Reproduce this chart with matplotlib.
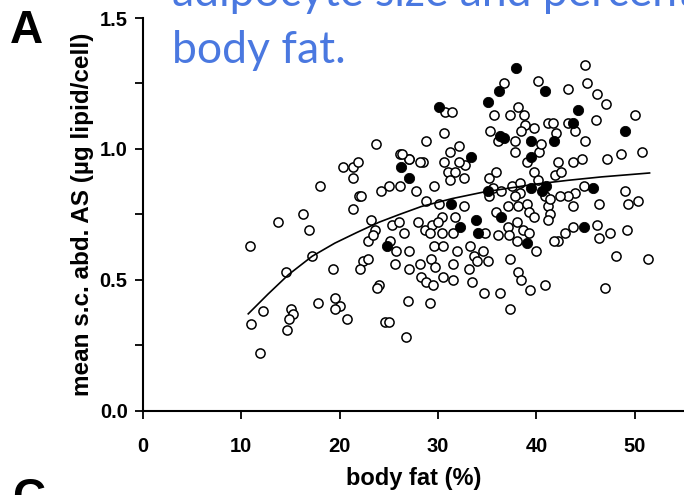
import matplotlib
matplotlib.use("Agg")
import matplotlib.pyplot as plt
from matplotlib.ticker import MultipleLocator

# ---- data ----
open_bf = [10.9, 11.9, 11.0, 12.2, 14.5, 13.7, 16.3, 16.9, 17.2, 18.0, 17.8, 15.0, 15.2, 14.8, 14.6,
           19.3, 19.5, 20.0, 19.5, 20.7, 21.3, 22.0, 22.2, 20.3, 21.4, 21.9, 21.3, 23.7, 24.2, 25.0,
           26.1, 26.1, 27.0, 27.8, 23.2, 23.6, 22.9, 23.4, 22.4, 22.9, 22.1, 24.0, 23.8, 25.3, 26.0,
           26.5, 25.1, 25.7, 27.0, 25.6, 27.0, 26.9, 24.6, 25.0, 26.7, 29.2, 28.0, 28.7, 29.4, 28.8,
           28.8, 30.6, 28.5, 29.6, 30.1, 30.4, 30.0, 29.2, 30.4, 29.6, 30.5, 28.2, 29.3, 29.7, 28.3,
           28.8, 29.5, 30.5, 30.7, 31.4, 27.0, 28.2, 26.3,
           32.1, 31.2, 30.6, 31.0, 31.7, 32.7, 32.1, 32.6, 31.2, 32.6, 31.7, 31.5, 31.9, 31.5, 31.5,
           33.2, 33.1, 33.4, 33.7, 34.6, 34.0, 35.1, 34.7, 36.3, 34.8, 35.2, 35.9, 35.6, 35.2, 35.7,
           37.3, 38.1, 38.7, 35.3, 36.1, 36.7, 38.8, 38.4, 37.8, 39.8, 37.8, 39.0, 40.3, 40.5, 41.2,
           41.7, 42.0, 40.2, 43.2, 39.7, 40.2, 35.9, 37.1, 38.1, 39.0, 39.2, 36.4, 37.5, 38.3, 38.3,
           37.8, 37.1, 38.0, 38.6, 39.2, 36.1, 37.2, 38.0, 39.7, 40.0, 37.3, 38.1, 38.4, 39.3, 37.3,
           40.9, 41.2, 41.4, 41.2, 40.9, 41.4, 41.9, 42.5, 42.2,
           44.9, 45.1, 46.2, 47.1, 43.2, 43.9, 44.9, 46.1, 50.0, 50.7, 48.6, 47.2, 43.7, 44.6, 44.8,
           43.9, 43.2, 42.4, 43.7, 46.4, 49.0, 49.3, 50.3, 46.2, 47.5, 46.4, 49.2, 43.7, 42.9, 42.2,
           41.8, 48.1, 51.3, 47.0]
open_val = [0.63, 0.22, 0.33, 0.38, 0.53, 0.72, 0.75, 0.69, 0.59, 0.86, 0.41, 0.39, 0.37, 0.35, 0.31,
            0.54, 0.43, 0.40, 0.39, 0.35, 0.77, 0.82, 0.82, 0.93, 0.93, 0.95, 0.89, 1.02, 0.84, 0.86,
            0.86, 0.98, 0.96, 0.84, 0.73, 0.69, 0.65, 0.67, 0.57, 0.58, 0.54, 0.48, 0.47, 0.71, 0.72,
            0.68, 0.65, 0.61, 0.61, 0.56, 0.54, 0.42, 0.34, 0.34, 0.28, 0.41, 0.72, 0.69, 0.71, 0.80,
            1.03, 1.06, 0.95, 0.86, 0.79, 0.74, 0.72, 0.68, 0.68, 0.63, 0.63, 0.56, 0.58, 0.55, 0.51,
            0.49, 0.48, 0.51, 1.14, 1.14, 0.96, 0.95, 0.98,
            1.01, 0.99, 0.95, 0.91, 0.91, 0.94, 0.95, 0.89, 0.88, 0.78, 0.74, 0.68, 0.61, 0.56, 0.50,
            0.63, 0.54, 0.49, 0.59, 0.61, 0.57, 0.57, 0.45, 0.45, 0.68, 0.89, 0.91, 0.85, 0.82, 1.13,
            1.13, 1.16, 1.13, 1.07, 1.03, 1.25, 1.09, 1.07, 1.03, 1.08, 0.99, 0.95, 0.99, 1.02, 1.10,
            1.10, 1.06, 1.26, 1.23, 0.91, 0.88, 0.76, 0.78, 0.78, 0.79, 0.76, 0.84, 0.86, 0.87, 0.83,
            0.82, 0.70, 0.72, 0.69, 0.68, 0.67, 0.67, 0.65, 0.74, 0.61, 0.58, 0.53, 0.50, 0.46, 0.39,
            0.48, 0.78, 0.75, 0.73, 0.82, 0.81, 0.90, 0.91, 0.95,
            1.32, 1.25, 1.21, 1.17, 1.10, 1.07, 1.03, 1.11, 1.13, 0.99, 0.98, 0.96, 0.95, 0.96, 0.86,
            0.83, 0.82, 0.82, 0.78, 0.79, 0.84, 0.79, 0.80, 0.71, 0.68, 0.66, 0.69, 0.70, 0.68, 0.65,
            0.65, 0.59, 0.58, 0.47]

filled_bf = [37.9, 36.2, 40.9, 35.1, 30.1, 44.2, 43.7, 49.0, 36.3, 36.7, 39.4, 41.8, 33.3, 39.4,
             26.2, 27.0, 45.7, 39.4, 41.0, 40.6, 35.1, 31.3, 36.4, 33.9, 32.2, 34.1, 44.8, 39.0, 24.8]
filled_val = [1.31, 1.22, 1.22, 1.18, 1.16, 1.15, 1.10, 1.07, 1.05, 1.04, 1.03, 1.03, 0.97, 0.97,
              0.93, 0.89, 0.85, 0.85, 0.86, 0.84, 0.84, 0.79, 0.74, 0.73, 0.70, 0.68, 0.70, 0.64, 0.63]

curve_bf = [10.7, 12.7, 14.8, 17.2, 19.5, 21.7, 24.0, 26.1, 28.3, 31.4, 34.6, 39.8, 43.2, 46.6, 51.5]
curve_val = [0.37, 0.445, 0.52, 0.59, 0.64, 0.68, 0.72, 0.75, 0.78, 0.81, 0.835, 0.865, 0.88, 0.893, 0.908]

x_ticks = [0, 10, 20, 30, 40, 50]
y_ticks = [0.0, 0.5, 1.0, 1.5]
y_ticklabels = ["0.0", "0.5", "1.0", "1.5"]

# ---- figure ----
W, H = 684, 495
fig = plt.figure(figsize=(W / 100, H / 100), dpi=100)
ax = fig.add_axes([143 / W, (H - 410.7) / H, (W - 143) / W, (410.7 - 18) / H])

ax.plot(open_bf, open_val, linestyle="none", marker="o", ms=6.6, mfc="white",
        mec="black", mew=1.1, zorder=2)
ax.plot(filled_bf, filled_val, linestyle="none", marker="o", ms=7.4, mfc="black",
        mec="black", mew=0.6, zorder=2)
ax.plot(curve_bf, curve_val, color="black", lw=1.2, zorder=3)

ax.set_xlim(0, 55)
ax.set_ylim(0, 1.5)
for s in ("top", "right"):
    ax.spines[s].set_visible(False)
for s in ("left", "bottom"):
    ax.spines[s].set_linewidth(1.5)

ax.set_xticks(x_ticks)
ax.set_yticks(y_ticks)
ax.set_yticklabels(y_ticklabels)
ax.yaxis.set_minor_locator(MultipleLocator(0.25))
ax.tick_params(axis="both", which="both", direction="out", length=6, width=1.3)
ax.tick_params(axis="x", pad=13)
ax.tick_params(axis="y", pad=5)

bold = {"family": "Liberation Sans", "weight": "bold"}
for lab in ax.get_xticklabels() + ax.get_yticklabels():
    lab.set_fontfamily("Liberation Sans")
    lab.set_fontweight("bold")
    lab.set_fontsize(14.5)

ax.set_xlabel("body fat (%)", fontsize=17, labelpad=8, **bold)
ax.set_ylabel("mean s.c. abd. AS (\u00b5g lipid/cell)", fontsize=17.5, labelpad=4, **bold)

# panel letters
fig.text(10 / W, 1 - 43 / H, "A", fontsize=33, ha="left", va="baseline", **bold)
fig.text(12 / W, 1 - 511 / H, "C", fontsize=33, ha="left", va="baseline", **bold)

# overlaid blue slide title (cut by the top edge as in the source)
blue = "#4a78e0"
fig.text(172 / W, 1 - 6 / H, "adipocyte size and percent", fontsize=32,
         family="Lato", color=blue, ha="left", va="baseline")
fig.text(172 / W, 1 - 63 / H, "body fat.", fontsize=32,
         family="Lato", color=blue, ha="left", va="baseline")

fig.savefig("out.png", dpi=100)
